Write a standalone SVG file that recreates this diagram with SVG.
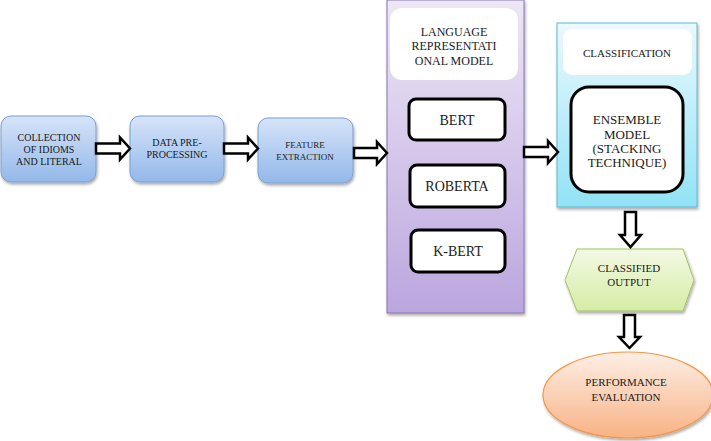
<svg xmlns="http://www.w3.org/2000/svg" width="711" height="441" viewBox="0 0 711 441" font-family="'Liberation Serif', 'DejaVu Serif', serif">
<defs>
<linearGradient id="gBlue" x1="0" y1="0" x2="0" y2="1"><stop offset="0" stop-color="#d6e4f8"/><stop offset="1" stop-color="#93b8ea"/></linearGradient>
<linearGradient id="gPurple" x1="0" y1="0" x2="0" y2="1"><stop offset="0" stop-color="#ede7f6"/><stop offset="1" stop-color="#bba6de"/></linearGradient>
<linearGradient id="gCyan" x1="0" y1="0" x2="0" y2="1"><stop offset="0" stop-color="#ebf9fd"/><stop offset="1" stop-color="#92e2f6"/></linearGradient>
<linearGradient id="gGreen" x1="0" y1="0" x2="0" y2="1"><stop offset="0" stop-color="#f3f9e4"/><stop offset="1" stop-color="#d5eda6"/></linearGradient>
<linearGradient id="gOrange" x1="0" y1="0" x2="0" y2="1"><stop offset="0" stop-color="#fdefe5"/><stop offset="1" stop-color="#f8b285"/></linearGradient>
<filter id="sh" x="-10%" y="-10%" width="125%" height="130%"><feGaussianBlur in="SourceAlpha" stdDeviation="1.5"/><feOffset dx="1" dy="2" result="b"/><feComponentTransfer><feFuncA type="linear" slope="0.35"/></feComponentTransfer><feMerge><feMergeNode/><feMergeNode in="SourceGraphic"/></feMerge></filter>
</defs>
<style>
text{fill:#1a1a1a;text-anchor:middle}
.blue{fill:url(#gBlue);stroke:#7b9fd0;stroke-width:1}
.inner{fill:#ffffff;stroke:#000;stroke-width:3}
.arrow{fill:#ffffff;stroke:#000;stroke-width:2.5;stroke-linejoin:miter}
</style>
<rect width="711" height="441" fill="#ffffff"/>

<g id="collection">
<rect class="blue" x="1" y="116" width="95" height="66" rx="10" filter="url(#sh)"/>
<text font-size="10"><tspan x="49" y="141">COLLECTION</tspan><tspan x="49" y="153">OF IDIOMS</tspan><tspan x="49" y="165">AND LITERAL</tspan></text>
</g>
<g id="preprocessing">
<rect class="blue" x="130" y="116" width="94" height="66" rx="10" filter="url(#sh)"/>
<text font-size="10"><tspan x="177" y="146">DATA PRE-</tspan><tspan x="177" y="158">PROCESSING</tspan></text>
</g>
<g id="feature">
<rect class="blue" x="258" y="118" width="95" height="65" rx="10" filter="url(#sh)"/>
<text font-size="9"><tspan x="305" y="148">FEATURE</tspan><tspan x="305" y="160">EXTRACTION</tspan></text>
</g>

<g id="language-model">
<rect x="387" y="0" width="137" height="313" fill="url(#gPurple)" stroke="#8c74b2" stroke-width="1" filter="url(#sh)"/>
<rect x="390" y="8" width="128" height="72" rx="12" fill="#ffffff"/>
<text font-size="12"><tspan x="454" y="36">LANGUAGE</tspan><tspan x="454" y="50">REPRESENTATI</tspan><tspan x="454" y="65">ONAL MODEL</tspan></text>
</g>
<g id="bert">
<rect class="inner" x="409" y="99" width="96" height="41" rx="7"/>
<text font-size="14" x="457" y="125">BERT</text>
</g>
<g id="roberta">
<rect class="inner" x="410" y="165" width="95" height="42" rx="7"/>
<text font-size="14" x="457" y="191">ROBERTA</text>
</g>
<g id="kbert">
<rect class="inner" x="411" y="230" width="94" height="42" rx="7"/>
<text font-size="14" x="458" y="256">K-BERT</text>
</g>

<g id="classification">
<rect x="557" y="23" width="140" height="184" fill="url(#gCyan)" stroke="#5cbad3" stroke-width="1" filter="url(#sh)"/>
<rect x="563" y="29" width="129" height="46" rx="9" fill="#ffffff"/>
<text font-size="11" x="627" y="57">CLASSIFICATION</text>
</g>
<g id="ensemble">
<rect class="inner" x="571" y="87" width="112" height="105" rx="18"/>
<text font-size="13"><tspan x="627" y="124">ENSEMBLE</tspan><tspan x="627" y="139">MODEL</tspan><tspan x="627" y="153">(STACKING</tspan><tspan x="627" y="167">TECHNIQUE)</tspan></text>
</g>

<g id="classified-output">
<polygon points="565,280 577,249 683,249 694,280 683,311 577,311" fill="url(#gGreen)" stroke="#a3c264" stroke-width="1" filter="url(#sh)"/>
<text font-size="11"><tspan x="629" y="272">CLASSIFIED</tspan><tspan x="629" y="286">OUTPUT</tspan></text>
</g>

<g id="performance">
<ellipse cx="628" cy="395" rx="85" ry="43" fill="url(#gOrange)" stroke="#f79646" stroke-width="1.2" filter="url(#sh)"/>
<text font-size="11"><tspan x="626" y="386">PERFORMANCE</tspan><tspan x="626" y="401">EVALUATION</tspan></text>
</g>

<g id="connectors">
<polygon class="arrow" points="96,143.5 120,143.5 120,137.5 130,148.5 120,159.5 120,153.5 96,153.5"/>
<polygon class="arrow" points="224,143.5 248,143.5 248,137.5 258,148.5 248,159.5 248,153.5 224,153.5"/>
<polygon class="arrow" points="354,148 377,148 377,142 387,153 377,164 377,158 354,158"/>
<polygon class="arrow" points="524,147 548,147 548,141 558,152 548,163 548,157 524,157"/>
<polygon class="arrow" points="625,212 636,212 636,235 641,235 630.5,247 620,235 625,235"/>
<polygon class="arrow" points="624,315 635,315 635,337 640,337 629.5,348 619,337 624,337"/>
</g>
</svg>
